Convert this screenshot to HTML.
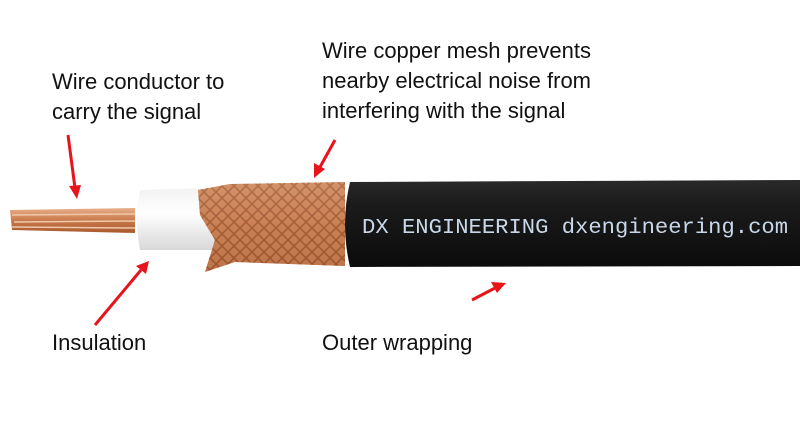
<!DOCTYPE html>
<html><head><style>
body{margin:0;background:#fff;}
svg{display:block}
text.l{font-family:"Liberation Sans",sans-serif;font-size:22px;fill:#111}
</style></head><body>
<svg width="800" height="425" viewBox="0 0 800 425">
<defs>
<linearGradient id="cu" x1="0" y1="0" x2="0" y2="1">
<stop offset="0" stop-color="#e8b08a"/><stop offset="0.5" stop-color="#c8794a"/><stop offset="1" stop-color="#a85a30"/></linearGradient>
<linearGradient id="ins" x1="0" y1="0" x2="0" y2="1">
<stop offset="0" stop-color="#f2f2f2"/><stop offset="0.4" stop-color="#ffffff"/><stop offset="1" stop-color="#d8d8d8"/></linearGradient>
<linearGradient id="jk" x1="0" y1="0" x2="0" y2="1">
<stop offset="0" stop-color="#2a2a2a"/><stop offset="0.3" stop-color="#1a1a1a"/><stop offset="1" stop-color="#0c0c0c"/></linearGradient>
<pattern id="braid" width="12" height="12" patternUnits="userSpaceOnUse">
<rect width="12" height="12" fill="#c98258"/>
<path d="M0 12 L12 0 M0 0 L12 12" stroke="#8e4d28" stroke-width="1.5"/>
</pattern>
</defs>
<!-- conductor -->
<path d="M10 210 L135 208 L135 233 L12 230 Z" fill="url(#cu)"/>
<path d="M12 215 L135 214 M14 222 L135 221 M12 227 L135 228" stroke="#f0c8a8" stroke-width="1.5"/>
<!-- insulation -->
<path d="M140 190 L215 188 L215 250 L140 250 Q134 220 140 190 Z" fill="url(#ins)"/>
<!-- braid -->
<path d="M198 190 L230 184 L345 182 L345 266 L235 262 L205 272 L215 240 L200 215 Z" fill="url(#braid)"/>
<path d="M198 190 L230 184 L345 182 L345 266 L235 262 L205 272 L215 240 L200 215 Z" fill="url(#cu)" opacity="0.35"/>
<!-- jacket -->
<path d="M350 182 L800 180 L800 266 L350 267 Q340 224 350 182 Z" fill="url(#jk)"/>
<text x="362" y="233" font-family="Liberation Mono, monospace" font-size="21" fill="#c8d8e8" textLength="426" lengthAdjust="spacingAndGlyphs">DX ENGINEERING dxengineering.com</text>
<!-- arrows -->
<g stroke="#e8141c" stroke-width="3" fill="#e8141c">
<line x1="68" y1="135" x2="75" y2="188"/><polygon points="69,186 81,185 77,199" stroke="none"/>
<line x1="335" y1="140" x2="320" y2="167"/><polygon points="314,163 325,169 314,178" stroke="none"/>
<line x1="95" y1="325" x2="141" y2="270"/><polygon points="136,266 146,274 149,261" stroke="none"/>
<line x1="472" y1="300" x2="495" y2="288"/><polygon points="491,282 497,293 506,283" stroke="none"/>
</g>
<!-- labels -->
<text class="l" x="52" y="89">Wire conductor to</text>
<text class="l" x="52" y="119">carry the signal</text>
<text class="l" x="322" y="58">Wire copper mesh prevents</text>
<text class="l" x="322" y="88">nearby electrical noise from</text>
<text class="l" x="322" y="118">interfering with the signal</text>
<text class="l" x="52" y="350">Insulation</text>
<text class="l" x="322" y="350">Outer wrapping</text>
</svg>
</body></html>
